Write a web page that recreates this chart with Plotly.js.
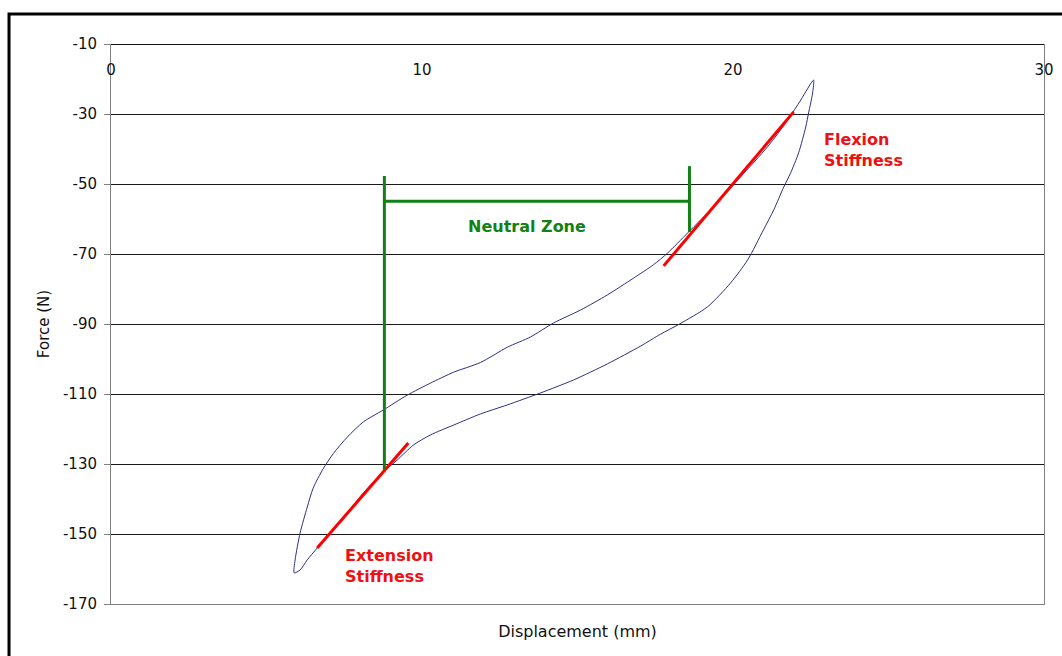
<!DOCTYPE html>
<html>
<head>
<meta charset="utf-8">
<script src="https://cdn.plot.ly/plotly-3.0.1.min.js"></script>
<style>html,body{margin:0;padding:0;background:#fff;}#chart{width:1062px;height:656px;}</style>
</head>
<body>
<div id="chart"></div>
<script>
// Hysteresis loop: displacement (mm) and force (N)
var loopX = [5.89, 5.92, 6.08, 6.31, 6.50, 6.82, 7.15, 7.60, 8.11, 8.75, 9.53, 10.27, 11.01, 11.88, 12.75, 13.49, 14.23, 15.10, 15.96, 16.80, 17.44, 17.90, 18.54, 19.50, 20.24, 21.11, 21.76, 22.18, 22.59,
             22.56, 22.43, 22.34, 22.11, 21.85, 21.63, 21.31, 20.98, 20.47, 19.92, 19.18, 18.28, 17.67, 17.03, 15.96, 14.87, 13.81, 12.75, 11.88, 11.01, 10.27, 9.72, 9.20, 8.75, 8.11, 7.60, 6.63, 6.31, 6.08, 5.89];
var loopY = [-161.1, -157.4, -149.7, -142.3, -136.9, -131.4, -127.0, -122.3, -118.0, -114.6, -110.3, -106.9, -103.8, -101.0, -96.6, -93.7, -89.7, -86.0, -81.7, -76.9, -73.1, -69.7, -64.0, -55.4, -48.0, -39.4, -31.7, -26.0, -20.3,
             -24.0, -29.7, -33.7, -41.1, -46.9, -50.9, -57.4, -63.1, -71.7, -78.3, -85.1, -90.0, -92.9, -96.3, -101.4, -106.0, -109.7, -113.1, -115.7, -118.9, -121.7, -124.6, -128.9, -132.3, -138.3, -144.0, -154.0, -157.4, -160.3, -161.1];

// Stiffness fit lines
var extensionX = [6.63, 9.56];
var extensionY = [-154.0, -124.0];
var flexionX = [17.77, 21.95];
var flexionY = [-73.4, -29.4];

// Neutral zone bracket
var nzLeftX = [8.79, 8.79];
var nzLeftY = [-47.7, -131.7];
var nzRightX = [18.60, 18.60];
var nzRightY = [-44.9, -63.7];
var nzBarX = [8.79, 18.60];
var nzBarY = [-54.9, -54.9];

// Axis ticks
var xTicks = [0, 10, 20, 30];
var yTicks = [-10, -30, -50, -70, -90, -110, -130, -150, -170];

var FONT = 'DejaVu Sans, Arial, sans-serif';

var traces = [
  {x: loopX, y: loopY, mode: 'lines', line: {color: '#2e2e80', width: 1, shape: 'spline', smoothing: 0.7}, hoverinfo: 'skip'},
  {x: extensionX, y: extensionY, mode: 'lines', line: {color: '#ff0000', width: 3}},
  {x: flexionX, y: flexionY, mode: 'lines', line: {color: '#ff0000', width: 3}},
  {x: nzLeftX, y: nzLeftY, mode: 'lines', line: {color: '#128012', width: 3}},
  {x: nzRightX, y: nzRightY, mode: 'lines', line: {color: '#128012', width: 3}},
  {x: nzBarX, y: nzBarY, mode: 'lines', line: {color: '#128012', width: 3}},
  {x: xTicks, y: [-10, -10, -10, -10], xaxis: 'x2', mode: 'markers', marker: {opacity: 0}, hoverinfo: 'skip'}
];

var layout = {
  width: 1062, height: 656,
  margin: {l: 111, r: 18, t: 44, b: 52},
  paper_bgcolor: '#ffffff', plot_bgcolor: '#ffffff',
  showlegend: false,
  font: {family: FONT, size: 14, color: '#000'},
  xaxis: {
    range: [0, 30], showgrid: false, zeroline: false,
    showline: true, linecolor: '#808080', linewidth: 1,
    showticklabels: false, ticks: '',
    title: {text: 'Displacement (mm)', font: {family: FONT, size: 16, color: '#111'}, standoff: 21},
    automargin: false
  },
  xaxis2: {
    overlaying: 'x', matches: 'x', side: 'bottom', anchor: 'free', position: 1, range: [0, 30],
    tickvals: xTicks, ticktext: xTicks.map(String),
    ticks: '', ticklabelstandoff: 12,
    showgrid: false, zeroline: false,
    showline: true, linecolor: '#111', linewidth: 1,
    tickfont: {family: FONT, size: 15, color: '#111'},
    automargin: false
  },
  yaxis: {
    range: [-170, -10], tickvals: yTicks, ticktext: yTicks.map(String),
    showgrid: true, gridcolor: '#1a1a1a', gridwidth: 1,
    zeroline: false, showline: true, linecolor: '#808080', linewidth: 1, mirror: true,
    ticks: 'outside', ticklen: 6, tickcolor: '#808080', ticklabelstandoff: 4,
    tickfont: {family: FONT, size: 15, color: '#111'},
    title: {text: 'Force (N)', font: {family: FONT, size: 15, color: '#111'}, standoff: 9},
    automargin: false
  },
  annotations: [
    {x: 13.39, y: -62, xref: 'x', yref: 'y', text: '<b>Neutral Zone</b>', showarrow: false,
     font: {family: FONT, size: 16, color: '#128012'}},
    {x: 22.85, y: -40.4, xref: 'x', yref: 'y', text: '<b>Flexion<br>Stiffness</b>', showarrow: false,
     xanchor: 'left', align: 'left', font: {family: FONT, size: 16, color: '#ee1111'}},
    {x: 7.47, y: -159.1, xref: 'x', yref: 'y', text: '<b>Extension<br>Stiffness</b>', showarrow: false,
     xanchor: 'left', align: 'left', font: {family: FONT, size: 16, color: '#ee1111'}}
  ],
  shapes: [
    {type: 'rect', xref: 'paper', yref: 'paper', x0: -0.1093, x1: 1.2, y0: -0.3, y1: 1.0536,
     line: {color: '#000', width: 3}, fillcolor: 'rgba(0,0,0,0)'}
  ]
};

Plotly.newPlot('chart', traces, layout, {staticPlot: true, displayModeBar: false});
</script>
</body>
</html>
